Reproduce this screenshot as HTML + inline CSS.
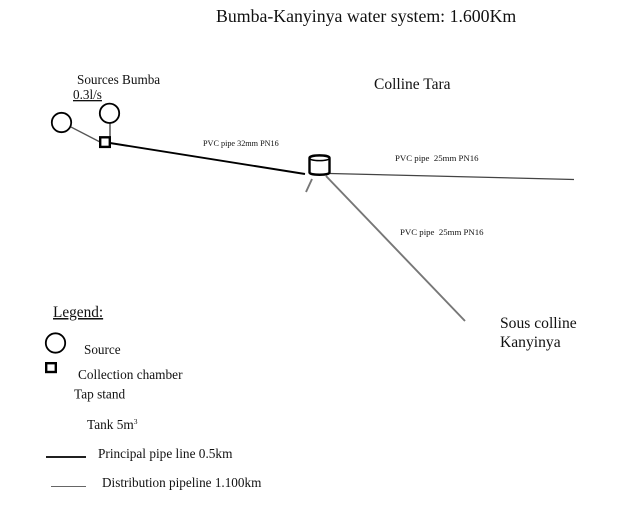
<!DOCTYPE html>
<html>
<head>
<meta charset="utf-8">
<style>
html,body{margin:0;padding:0;background:#fff;}
svg{display:block;}
text{font-family:"Liberation Serif",serif;fill:#111;}
</style>
</head>
<body>
<svg width="632" height="514" viewBox="0 0 632 514" xmlns="http://www.w3.org/2000/svg">
<rect width="632" height="514" fill="#fff"/>
<text x="216" y="22" font-size="17.8">Bumba-Kanyinya water system: 1.600Km</text>
<text x="77" y="84" font-size="13.2">Sources Bumba</text>
<text x="73" y="99" font-size="13.2" text-decoration="underline">0.3l/s</text>
<text x="374" y="89" font-size="15.5">Colline Tara</text>
<text x="203" y="146" font-size="8.2">PVC pipe 32mm PN16</text>
<text x="395" y="161" font-size="8.8">PVC pipe&#160; 25mm PN16</text>
<text x="400" y="235" font-size="8.8">PVC pipe&#160; 25mm PN16</text>
<text x="500" y="328" font-size="15.6">Sous colline</text>
<text x="500" y="347" font-size="15.6">Kanyinya</text>

<line x1="71" y1="127" x2="100" y2="142" stroke="#555" stroke-width="1.300"/>
<line x1="110" y1="122" x2="110" y2="138" stroke="#555" stroke-width="1.500"/>
<circle cx="61.500" cy="122.500" r="9.700" fill="#fff" stroke="#000" stroke-width="1.800"/>
<circle cx="109.500" cy="113.300" r="9.700" fill="#fff" stroke="#000" stroke-width="1.800"/>
<line x1="110" y1="143" x2="305" y2="174" stroke="#000" stroke-width="1.900"/>
<rect x="100.200" y="137.300" width="9.600" height="9.600" fill="#fff" stroke="#000" stroke-width="2.400"/>

<line x1="330" y1="173.500" x2="574" y2="179.500" stroke="#444" stroke-width="1.300"/>
<line x1="326" y1="176" x2="465" y2="321" stroke="#777" stroke-width="1.900"/>
<line x1="312" y1="179" x2="306" y2="192" stroke="#777" stroke-width="1.900"/>

<path d="M309.500 158 C309.500 154.500 329.500 154.500 329.500 158 L329.500 172.500 C329.500 175.500 309.500 175.500 309.500 172.500 Z" fill="#fff" stroke="#000" stroke-width="2.400"/>
<path d="M309.500 158 C309.500 161.500 329.500 161.500 329.500 158" fill="none" stroke="#000" stroke-width="1.500"/>

<text x="53" y="317" font-size="15.300" text-decoration="underline">Legend:</text>
<circle cx="55.500" cy="343" r="9.700" fill="#fff" stroke="#000" stroke-width="1.800"/>
<text x="84" y="354" font-size="13.200">Source</text>
<rect x="46.200" y="363.200" width="9.600" height="8.800" fill="#fff" stroke="#000" stroke-width="2.400"/>
<text x="78" y="379" font-size="13.300">Collection chamber</text>
<text x="74" y="398.500" font-size="13.300">Tap stand</text>
<text x="87" y="429" font-size="13.300">Tank 5m<tspan font-size="7.500" dy="-5">3</tspan></text>
<line x1="46" y1="457" x2="86" y2="457" stroke="#000" stroke-width="1.800"/>
<text x="98" y="458" font-size="13.300">Principal pipe line 0.5km</text>
<line x1="51" y1="486.500" x2="86" y2="486.500" stroke="#666" stroke-width="1"/>
<text x="102" y="487" font-size="13.200">Distribution pipeline 1.100km</text>
</svg>
</body>
</html>
